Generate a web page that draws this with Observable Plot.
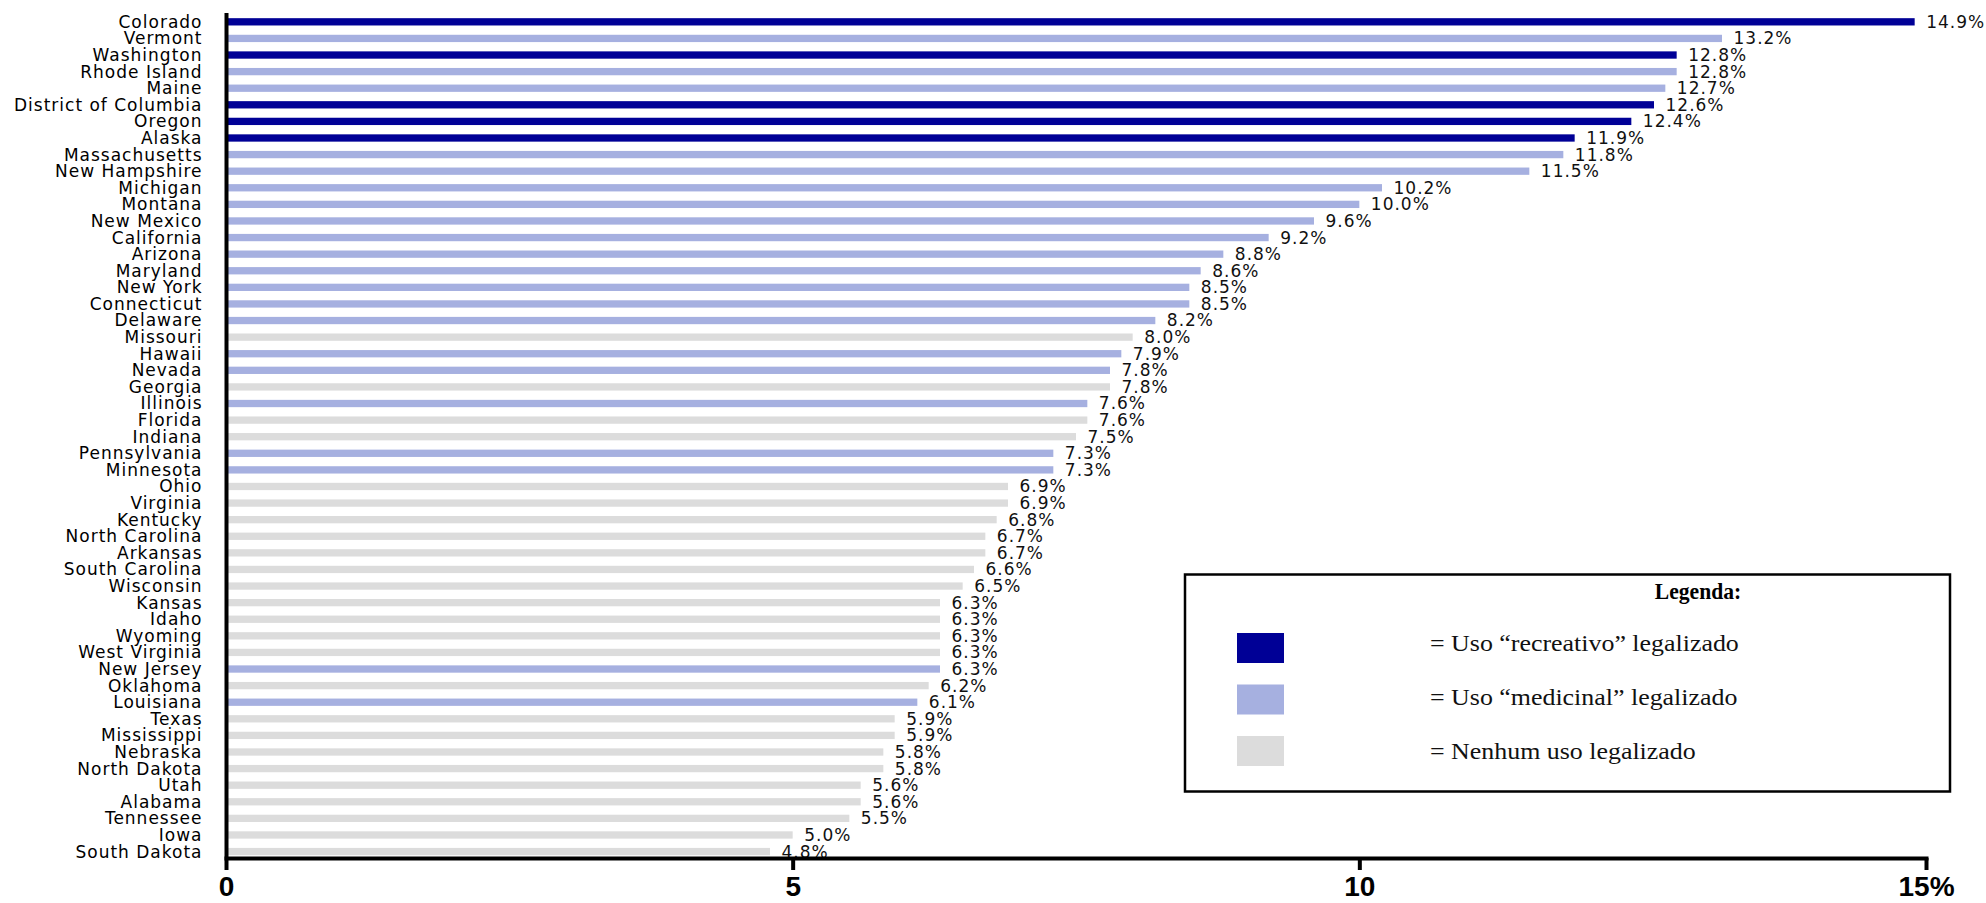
<!DOCTYPE html>
<html>
<head>
<meta charset="utf-8">
<script src="https://cdn.jsdelivr.net/npm/d3@7"></script>
<script src="https://cdn.jsdelivr.net/npm/@observablehq/plot@0.6"></script>
<style>
  html, body { margin: 0; padding: 0; background: #fff; }
  #wrap { position: relative; width: 1986px; height: 903px; overflow: hidden; }
  #chart svg text { letter-spacing: 1px; }
  #chart g[aria-label="x-axis tick label"] text { letter-spacing: 0; font-weight: bold; font-family: "Liberation Sans", Arial, sans-serif; }
  #legend { position: absolute; left: 0; top: 0; pointer-events: none; }
</style>
</head>
<body>
<div id="wrap">
  <div id="chart"></div>
  <svg id="legend" width="1986" height="903"></svg>
</div>
<script>
const states = ["Colorado","Vermont","Washington","Rhode Island","Maine","District of Columbia","Oregon","Alaska","Massachusetts","New Hampshire","Michigan","Montana","New Mexico","California","Arizona","Maryland","New York","Connecticut","Delaware","Missouri","Hawaii","Nevada","Georgia","Illinois","Florida","Indiana","Pennsylvania","Minnesota","Ohio","Virginia","Kentucky","North Carolina","Arkansas","South Carolina","Wisconsin","Kansas","Idaho","Wyoming","West Virginia","New Jersey","Oklahoma","Louisiana","Texas","Mississippi","Nebraska","North Dakota","Utah","Alabama","Tennessee","Iowa","South Dakota"];
const values = [14.9,13.2,12.8,12.8,12.7,12.6,12.4,11.9,11.8,11.5,10.2,10.0,9.6,9.2,8.8,8.6,8.5,8.5,8.2,8.0,7.9,7.8,7.8,7.6,7.6,7.5,7.3,7.3,6.9,6.9,6.8,6.7,6.7,6.6,6.5,6.3,6.3,6.3,6.3,6.3,6.2,6.1,5.9,5.9,5.8,5.8,5.6,5.6,5.5,5.0,4.8];
// R = recreativo, M = medicinal, N = nenhum
const status = ["R","M","R","M","M","R","R","R","M","M","M","M","M","M","M","M","M","M","M","N","M","M","N","M","N","N","M","M","N","N","N","N","N","N","N","N","N","N","N","M","N","M","N","N","N","N","N","N","N","N","N"];
const statusKeys = ["R","M","N"];
const statusLabels = ["= Uso \u201crecreativo\u201d legalizado","= Uso \u201cmedicinal\u201d legalizado","= Nenhum uso legalizado"];
const statusColors = ["#000096","#a6b0e0","#dcdcdc"];
const xTicks = [0,5,10,15];
const legendTitle = "Legenda:";

const data = states.map((s,i) => ({state: s, value: values[i], status: status[i]}));

const chart = Plot.plot({
  width: 1986,
  height: 903,
  marginTop: 13,
  marginBottom: 45,
  marginLeft: 226,
  marginRight: 60,
  style: {fontFamily: "DejaVu Sans", color: "black", background: "white", overflow: "visible"},
  x: {domain: [0, 15], axis: null},
  y: {domain: states, paddingInner: 0.56, paddingOuter: 0.24, align: 0.65, round: false, axis: null},
  color: {domain: statusKeys, range: statusColors},
  marks: [
    Plot.barX(data, {x: "value", y: "state", fill: "status"}),
    Plot.text(data, {x: "value", y: "state", text: d => d.value.toFixed(1) + "%", textAnchor: "start", dx: 11, fontSize: 17, fill: "#111"}),
    Plot.axisY({tickSize: 0, tickPadding: 24, fontSize: 17, label: null}),
    Plot.ruleX([0], {stroke: "black", strokeWidth: 4}),
    Plot.frame({anchor: "bottom", stroke: "black", strokeWidth: 4}),
    Plot.axisX({ticks: xTicks, tickSize: 12, strokeWidth: 4, stroke: "black", tickPadding: 6, fontSize: 28, fontWeight: "bold", label: null,
      tickFormat: d => d === 15 ? "15%" : String(d)})
  ]
});
document.getElementById("chart").appendChild(chart);

// Legend
const serif = "Liberation Serif, Times New Roman, serif";
const lg = d3.select("#legend");
lg.append("rect").attr("x", 1185).attr("y", 574.5).attr("width", 765).attr("height", 217)
  .attr("fill", "white").attr("stroke", "black").attr("stroke-width", 2.5);
lg.append("text").attr("transform", "translate(1698,599) scale(0.9,1)").attr("text-anchor", "middle")
  .attr("font-family", serif).attr("font-weight", "bold").attr("font-size", 24)
  .text(legendTitle);
statusKeys.forEach((k, i) => {
  const sy = 633 + i * 51.5;
  lg.append("rect").attr("x", 1237).attr("y", sy).attr("width", 47).attr("height", 30).attr("fill", statusColors[i]);
  lg.append("text").attr("transform", `translate(1430,${651 + i * 54}) scale(1.08,1)`)
    .attr("font-family", serif).attr("font-size", 24).attr("fill", "#111")
    .text(statusLabels[i]);
});
</script>
</body>
</html>
